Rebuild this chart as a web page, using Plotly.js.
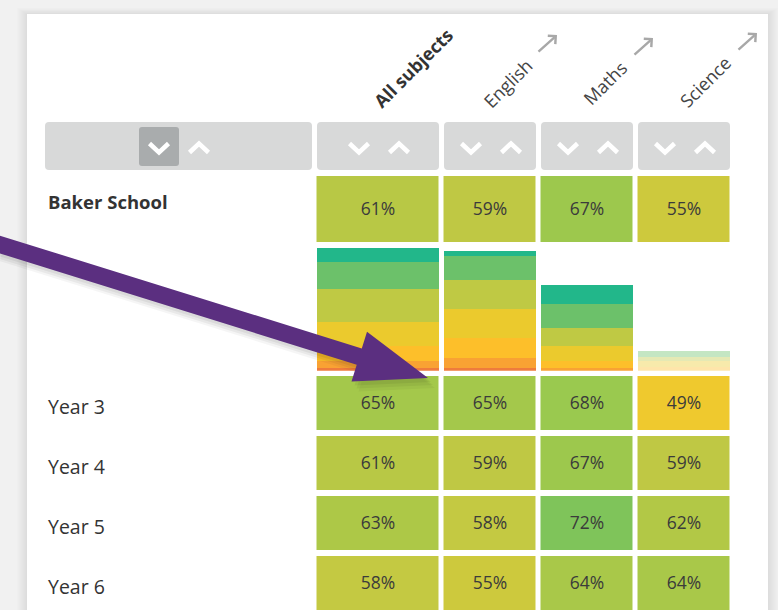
<!DOCTYPE html>
<html>
<head>
<meta charset="utf-8">
<script src="https://cdn.plot.ly/plotly-3.0.1.min.js"></script>
<style>html,body{margin:0;padding:0;background:#f1f1f1;}#chart{width:778px;height:610px;}</style>
</head>
<body>
<div id="chart"></div>
<script>
// ---------- data ----------
const subjects = ['All subjects', 'English', 'Maths', 'Science'];
const schoolName = 'Baker School';
const schoolValues = [61, 59, 67, 55];
const yearLabels = ['Year 3', 'Year 4', 'Year 5', 'Year 6'];
const year3 = [65, 65, 68, 49];
const year4 = [61, 59, 67, 59];
const year5 = [63, 58, 72, 62];
const year6 = [58, 55, 64, 64];
// distribution bands, bottom to top (one value per subject)
const bandRed    = [2.7, 3, 0, 0];
const bandOrange = [7, 10, 3, 0];
const bandAmber  = [15, 20, 6.7, 3.4];
const bandYellow = [24, 28.7, 15, 6.3];
const bandLime   = [33, 29, 18, 4];
const bandGreen  = [27, 24.3, 24, 6];
const bandTeal   = [14, 4.7, 19, 0];
const bandOpacity = [1, 1, 1, 0.4];

// ---------- layout constants (pixel space) ----------
const W = 778, H = 610;
const colLeft  = [317, 444, 541, 638];
const colRight = [439, 536, 633, 730];
const gap = 5;
const colCenter = colLeft.map((l, i) => (l + colRight[i]) / 2);
const colWidth = colLeft.map((l, i) => colRight[i] - l);
const xEdges = [colLeft[0] - gap / 2].concat(colRight.map(r => r + gap / 2));
const yearEdges = [373, 433, 493, 553, 613];
const schoolEdges = [173, 245];
const barBottom = 370.7, barTop = 247, barMax = 123.7;
const fy = p => (H - p) / H;

const cellColors = [
  [0, '#efc92e'], [0.261, '#cdc93d'], [0.391, '#c4c942'], [0.435, '#bfc844'],
  [0.522, '#b8c845'], [0.565, '#b2c846'], [0.609, '#adc847'], [0.696, '#a4c84b'],
  [0.783, '#9dc84d'], [0.826, '#9ac94f'], [1, '#7fc45a']
];
const font = '"Open Sans", "Noto Sans", sans-serif';
const txt = '#3b3b3b';

const traces = [];
traces.push({
  type: 'heatmap', x: xEdges, y: schoolEdges, z: [schoolValues],
  zmin: 49, zmax: 72, colorscale: cellColors, showscale: false,
  xgap: gap, ygap: 6, texttemplate: '%{z}%',
  textfont: {family: font, size: 17.5, color: txt}, hoverinfo: 'skip'
});
traces.push({
  type: 'heatmap', x: xEdges, y: yearEdges, z: [year3, year4, year5, year6],
  zmin: 49, zmax: 72, colorscale: cellColors, showscale: false,
  xgap: gap, ygap: 6, texttemplate: '%{z}%',
  textfont: {family: font, size: 17.5, color: txt}, hoverinfo: 'skip'
});
const bands = [
  [bandRed, '#ef7b3c'], [bandOrange, '#f9a233'], [bandAmber, '#fdbf2a'],
  [bandYellow, '#ebca2d'], [bandLime, '#bfc944'], [bandGreen, '#6cc16a'], [bandTeal, '#22b78a']
];
bands.forEach(([vals, col]) => {
  traces.push({
    type: 'bar', x: colCenter, y: vals, width: colWidth, yaxis: 'y2',
    marker: {color: col, opacity: bandOpacity, line: {width: 0}},
    hoverinfo: 'skip', showlegend: false
  });
});

// ---------- shapes ----------
function rr(x0, y0, x1, y1, r) {
  return `M${x0 + r},${y0} L${x1 - r},${y0} Q${x1},${y0} ${x1},${y0 + r} L${x1},${y1 - r} Q${x1},${y1} ${x1 - r},${y1} L${x0 + r},${y1} Q${x0},${y1} ${x0},${y1 - r} L${x0},${y0 + r} Q${x0},${y0} ${x0 + r},${y0} Z`;
}
const shapes = [];
// card shadow
const card = [27, 14, 768, 650];
for (let k = 10; k >= 1; k--) {
  shapes.push({type: 'rect', xref: 'x', yref: 'y', x0: card[0] - k, y0: card[1] - k * 0.6, x1: card[2] + k, y1: card[3],
    fillcolor: 'rgba(0,0,0,0.009)', line: {width: 0}, layer: 'below'});
}
shapes.push({type: 'rect', xref: 'x', yref: 'y', x0: card[0], y0: card[1], x1: card[2], y1: card[3],
  fillcolor: '#ffffff', line: {width: 0}, layer: 'below'});
// control boxes
const ctrlTop = 122, ctrlBot = 170;
shapes.push({type: 'path', xref: 'x', yref: 'y', path: rr(45, ctrlTop, 312, ctrlBot, 4), fillcolor: '#d8d9d9', line: {width: 0}, layer: 'below'});
shapes.push({type: 'path', xref: 'x', yref: 'y', path: rr(139, 127, 179, 166, 3), fillcolor: '#a9acad', line: {width: 0}, layer: 'below'});
colLeft.forEach((l, i) => {
  shapes.push({type: 'path', xref: 'x', yref: 'y', path: rr(l, ctrlTop, colRight[i], ctrlBot, 4), fillcolor: '#d8d9d9', line: {width: 0}, layer: 'below'});
});
function chevron(cx, cy, up) {
  const s = up ? -1 : 1;
  return `M${cx - 9.5},${cy - 4.5 * s} L${cx},${cy + 4.5 * s} L${cx + 9.5},${cy - 4.5 * s}`;
}
const chevCenters = [[159, 199]].concat(colCenter.map(c => [c - 19, c + 21]));
chevCenters.forEach(([d, u]) => {
  shapes.push({type: 'path', xref: 'x', yref: 'y', path: chevron(d, 148, false), line: {color: '#ffffff', width: 4.5}, layer: 'above'});
  shapes.push({type: 'path', xref: 'x', yref: 'y', path: chevron(u, 148, true), line: {color: '#ffffff', width: 4.5}, layer: 'above'});
});
// purple pointer arrow
function pointer(tx, ty, hx, hy, half, headLen, headHalf, dx, dy) {
  const L = Math.hypot(hx - tx, hy - ty), ux = (hx - tx) / L, uy = (hy - ty) / L, px = -uy, py = ux;
  const bx = hx - ux * headLen, by = hy - uy * headLen;
  const pts = [
    [tx + px * half, ty + py * half], [bx + px * half, by + py * half], [bx + px * headHalf, by + py * headHalf],
    [hx, hy], [bx - px * headHalf, by - py * headHalf], [bx - px * half, by - py * half], [tx - px * half, ty - py * half]
  ];
  return 'M' + pts.map(p => `${p[0] + dx},${p[1] + dy}`).join(' L') + ' Z';
}
const arrowTail = [-5, 243], arrowTip = [428, 378];
[[7, 10, 0.04], [5, 7, 0.05], [3, 4, 0.06]].forEach(([dx, dy, a]) => {
  shapes.push({type: 'path', xref: 'x', yref: 'y', path: pointer(arrowTail[0], arrowTail[1], arrowTip[0], arrowTip[1], 8.5, 72, 26, dx, dy),
    fillcolor: `rgba(0,0,0,${a})`, line: {width: 0}, layer: 'above'});
});
shapes.push({type: 'path', xref: 'x', yref: 'y', path: pointer(arrowTail[0], arrowTail[1], arrowTip[0], arrowTip[1], 8.5, 72, 26, 0, 0),
  fillcolor: '#5b2f80', line: {width: 0}, layer: 'above'});

// ---------- annotations ----------
const annotations = [];
const headCenters = [[413, 68], [508, 83], [605, 83], [705, 82]];
subjects.forEach((s, i) => {
  annotations.push({xref: 'x', yref: 'y', x: headCenters[i][0], y: headCenters[i][1], text: i === 0 ? '<b>' + s + '</b>' : s,
    textangle: -45, showarrow: false, xanchor: 'center', yanchor: 'middle',
    font: {family: font, size: i === 0 ? 18 : 18, color: i === 0 ? '#333' : '#444'}});
});
const linkArrows = [[537, 53, 557, 35], [633, 56, 653, 38], [737, 51, 757, 33]];
linkArrows.forEach(([x0, y0, x1, y1]) => {
  annotations.push({xref: 'x', yref: 'y', axref: 'x', ayref: 'y', x: x1, y: y1, ax: x0, ay: y0, text: '',
    showarrow: true, arrowhead: 4, arrowsize: 0.9, arrowwidth: 2.4, arrowcolor: '#a8a8a8', standoff: 0, startstandoff: 0});
});
annotations.push({xref: 'x', yref: 'y', x: 46, y: 201, text: '<b>' + schoolName + '</b>', showarrow: false,
  xanchor: 'left', yanchor: 'middle', font: {family: font, size: 18.5, color: '#333'}});
yearLabels.forEach((lab, i) => {
  annotations.push({xref: 'x', yref: 'y', x: 46, y: (yearEdges[i] + yearEdges[i + 1]) / 2 + 3, text: lab, showarrow: false,
    xanchor: 'left', yanchor: 'middle', font: {family: font, size: 19.5, color: '#333'}});
});

const layout = {
  width: W, height: H, margin: {l: 0, r: 0, t: 0, b: 0},
  paper_bgcolor: '#f1f1f1', plot_bgcolor: 'rgba(0,0,0,0)',
  showlegend: false, barmode: 'stack', bargap: 0,
  xaxis: {range: [0, W], visible: false, fixedrange: true},
  yaxis: {range: [H, 0], visible: false, fixedrange: true},
  yaxis2: {domain: [fy(barBottom), fy(barTop)], range: [0, barMax], visible: false, anchor: 'x', fixedrange: true},
  shapes: shapes, annotations: annotations
};
Plotly.newPlot('chart', traces, layout, {staticPlot: true, displayModeBar: false});
</script>
</body>
</html>
